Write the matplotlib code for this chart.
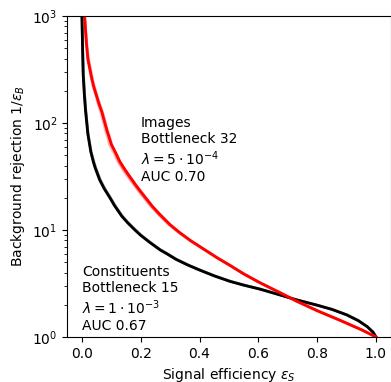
import matplotlib
matplotlib.use("Agg")
import matplotlib.pyplot as plt

# Constituents (black) runs: signal efficiency and background rejection
eps_black = [0.000, 0.002, 0.004, 0.008, 0.012, 0.020, 0.030, 0.039, 0.045, 0.060, 0.075, 0.095,
             0.110, 0.135, 0.155, 0.180, 0.200, 0.230, 0.265, 0.290, 0.320, 0.360, 0.400, 0.450,
             0.503, 0.550, 0.605, 0.673, 0.730, 0.800, 0.850, 0.900, 0.940, 0.970, 0.990, 1.000]
rej_black = [1000, 525, 288, 186, 132, 79, 54, 43, 38, 29.5, 24.5, 20,
             17.0, 13.5, 11.7, 10, 8.9, 7.67, 6.53, 5.96, 5.31, 4.70, 4.22, 3.72,
             3.31, 3.05, 2.80, 2.47, 2.22, 1.98, 1.81, 1.61, 1.42, 1.25, 1.11, 1.0]
eps_black2 = [0.000, 0.002, 0.005, 0.009, 0.013, 0.021, 0.031, 0.041, 0.047, 0.062, 0.077, 0.097,
              0.112, 0.137, 0.157, 0.182, 0.202, 0.232, 0.267, 0.292, 0.322, 0.362, 0.402, 0.452,
              0.505, 0.552, 0.607, 0.675, 0.731, 0.801, 0.851, 0.901, 0.941, 0.970, 0.990, 1.000]

# Images (red) runs
eps_red = [0.009, 0.015, 0.020, 0.033, 0.040, 0.050, 0.058, 0.068, 0.075, 0.085, 0.092, 0.100,
           0.115, 0.129, 0.145, 0.160, 0.186, 0.200, 0.220, 0.240, 0.265, 0.300, 0.333, 0.370,
           0.418, 0.460, 0.503, 0.550, 0.600, 0.640, 0.673, 0.730, 0.800, 0.878, 0.950, 1.000]
rej_red = [1000, 562, 398, 263, 219, 178, 151, 126, 107, 85, 74, 63,
           52.5, 43.6, 37.2, 32.4, 25.7, 22.9, 19.5, 16.6, 14.0, 11.2, 9.44, 7.94,
           6.53, 5.50, 4.68, 3.89, 3.27, 2.88, 2.60, 2.16, 1.76, 1.43, 1.17, 1.0]
eps_red2 = [0.009, 0.015, 0.020, 0.032, 0.038, 0.048, 0.055, 0.064, 0.071, 0.080, 0.087, 0.094,
            0.109, 0.122, 0.138, 0.153, 0.180, 0.194, 0.214, 0.235, 0.260, 0.296, 0.330, 0.368,
            0.416, 0.459, 0.502, 0.550, 0.600, 0.640, 0.673, 0.730, 0.800, 0.878, 0.950, 1.000]
eps_red3 = [0.009, 0.016, 0.022, 0.035, 0.042, 0.052, 0.060, 0.070, 0.077, 0.087, 0.094, 0.101,
            0.114, 0.127, 0.142, 0.157, 0.183, 0.197, 0.217, 0.238, 0.262, 0.298, 0.331, 0.369,
            0.417, 0.459, 0.502, 0.550, 0.600, 0.640, 0.673, 0.730, 0.800, 0.878, 0.950, 1.000]

fig = plt.figure(figsize=(3.91, 3.82), dpi=100)
ax = fig.add_axes([0.172, 0.118, 0.827, 0.840])

ax.plot(eps_black2, rej_black, color="black", lw=2, alpha=0.5)
ax.plot(eps_black, rej_black, color="black", lw=2)
ax.plot(eps_red2, rej_red, color="red", lw=2, alpha=0.3)
ax.plot(eps_red3, rej_red, color="red", lw=2, alpha=0.4)
ax.plot(eps_red, rej_red, color="red", lw=2)

ax.set_yscale("log")
ax.set_ylim(1, 1000)
ax.set_xlim(-0.05, 1.05)
ax.set_xticks([0.0, 0.2, 0.4, 0.6, 0.8, 1.0])
ax.set_xlabel(r"Signal efficiency $\epsilon_S$")
ax.set_ylabel(r"Background rejection $1/\epsilon_B$")

ax.text(0.2, 56, "Images\nBottleneck 32\n$\\lambda = 5\\cdot10^{-4}$\nAUC 0.70",
        fontsize=10, va="center", ha="left")
ax.text(0.0, 2.26, "Constituents\nBottleneck 15\n$\\lambda = 1\\cdot10^{-3}$\nAUC 0.67",
        fontsize=10, va="center", ha="left")

fig.savefig("out.png", dpi=100)
